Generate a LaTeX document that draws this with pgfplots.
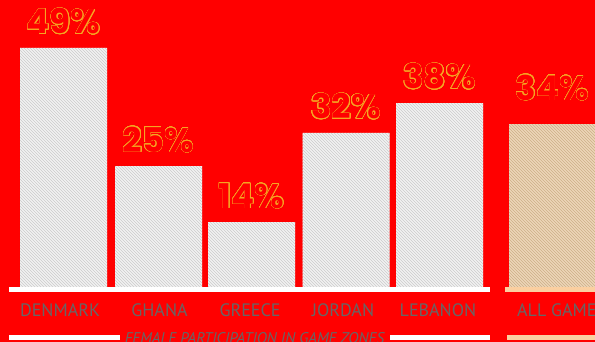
\documentclass[border=0pt]{standalone}
\usepackage{pgfplots}
\pgfplotsset{compat=1.18}
\usetikzlibrary{patterns}
\usepackage{fontspec}
\setmainfont{PT Sans}
\newfontfamily\pop{Poppins}
\usepackage{contour}
\contourlength{0.45pt}
\contournumber{24}
\definecolor{bgred}{HTML}{FF0000}
\definecolor{outl}{HTML}{F5A623}
\definecolor{lbl}{HTML}{666666}
\definecolor{peach}{HTML}{FBCFA0}
\definecolor{tanfill}{HTML}{EDD6B8}
\definecolor{tanline}{HTML}{CDAF88}
\begin{document}
\begin{tikzpicture}
\useasboundingbox (0,0) rectangle (595pt,342pt);
\fill[bgred] (0,0) rectangle (595pt,342pt);
\begin{axis}[
  at={(0,0)}, anchor=south west,
  scale only axis, width=595pt, height=342pt,
  xmin=0, xmax=595, ymin=-11.275, ymax=58.84,
  axis lines=none, xtick=\empty, ytick=\empty,
  ybar, bar width=87, bar shift=0pt,
  point meta=explicit symbolic,
  nodes near coords={\pop\bfseries\fontsize{34}{34}\selectfont\contour{outl}{\textcolor{bgred}{\pgfplotspointmeta}}},
  every node near coord/.append style={anchor=south, inner sep=0pt, yshift=13pt},
  clip=true,
]
\addplot[draw=none, fill=black!5, postaction={pattern=north west lines, pattern color=black!20}]
  coordinates {(63.5,49) [49\%] (158.5,24.8) [25\%] (251.5,13.3) [14\%] (346,31.6) [32\%] (439.5,37.7) [38\%]};
\addplot[draw=none, fill=tanfill, postaction={pattern=north west lines, pattern color=tanline},
  every node near coord/.append style={yshift=10pt}]
  coordinates {(552.5,33.4) [34\%]};
\draw[white, line width=5pt] (axis cs:9,-0.51) -- (axis cs:490,-0.51);
\draw[peach, line width=5pt] (axis cs:505,-0.51) -- (axis cs:595,-0.51);
\draw[white, line width=5pt] (axis cs:9,-10.35) -- (axis cs:120,-10.35);
\draw[white, line width=5pt] (axis cs:390,-10.35) -- (axis cs:490,-10.35);
\draw[peach, line width=5pt] (axis cs:507,-10.35) -- (axis cs:595,-10.35);
\begin{scope}[every node/.style={text=lbl, font=\fontsize{18}{18}\selectfont, inner sep=0pt}]
\node at (axis cs:60,-4.72) {DENMARK};
\node at (axis cs:159.5,-4.72) {GHANA};
\node at (axis cs:250,-4.72) {GREECE};
\node at (axis cs:343,-4.72) {JORDAN};
\node at (axis cs:438,-4.72) {LEBANON};
\node[anchor=west] at (axis cs:517,-4.72) {ALL GAMES};
\end{scope}
\node[text=lbl, font=\itshape\fontsize{15.5}{15.5}\selectfont, inner sep=0pt] at (axis cs:254.5,-10.55) {FEMALE PARTICIPATION IN GAME ZONES};
\end{axis}
\end{tikzpicture}
\end{document}
